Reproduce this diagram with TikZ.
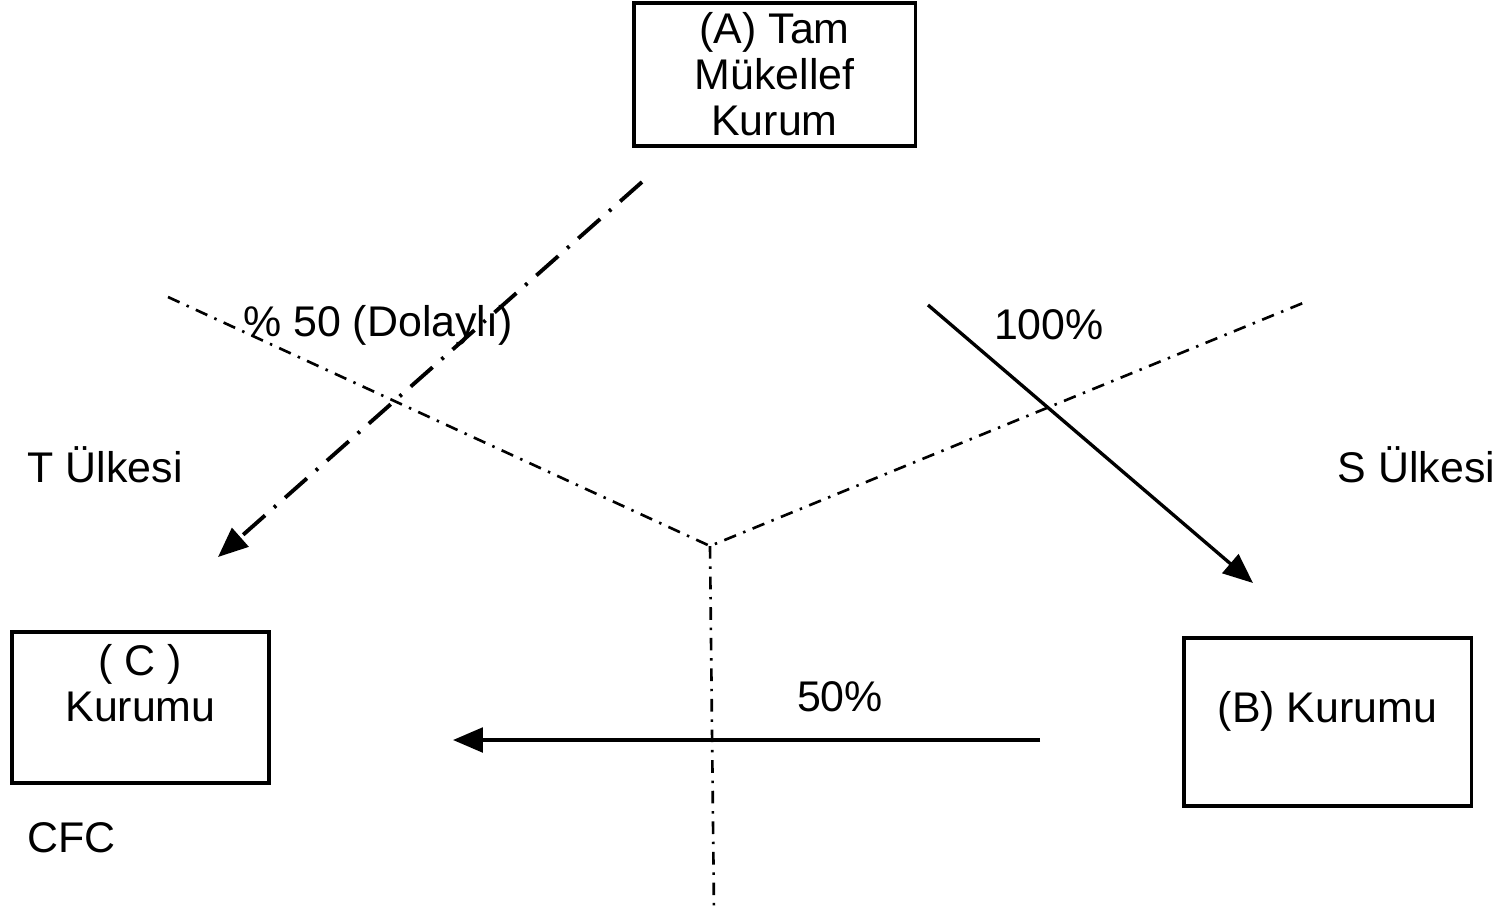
\documentclass[tikz,border=0pt]{standalone}
\usepackage{fontspec}
\setmainfont{Liberation Sans}
\usetikzlibrary{arrows.meta}
\tikzset{
  kutu/.style={draw, line width=0.9pt, inner sep=0pt, align=center},
  sinir/.style={line width=0.75pt, dash pattern=on 3.6pt off 2.2pt on 0.7pt off 2.2pt},
  dolayli/.style={line width=1.1pt, dash pattern=on 8.3pt off 3.4pt on 0.8pt off 3.4pt},
  ok/.style={-{Triangle[length=8.5pt,width=7pt]}}
}

\begin{document}
\begin{tikzpicture}[x={(0.01cm,0)}, y={(0,-0.01cm)}, font=\fontsize{12.2}{13.1}\selectfont]
        \useasboundingbox (0,0) rectangle (1508,914);
        % kurumlar
        \node[kutu, minimum width=2.81cm, minimum height=1.43cm] (kurumA) at (774.5,74.5) {(A) Tam\\Mükellef\\Kurum};
        \node[kutu, minimum width=2.57cm, minimum height=1.51cm] (kurumC) at (140.5,707.5) {};
        \node[align=center] (yaziC) at (140.5,683) {( C )\\Kurumu};
        \node[kutu, minimum width=2.87cm, minimum height=1.68cm] (kurumB) at (1327.5,722) {};
        \node (yaziB) at (1327.5,711) {(B) Kurumu};
        % ulke sinirlari
        \coordinate (sinirT) at (168,297);
        \coordinate (merkez) at (710,546);
        \coordinate (sinirS) at (1303,303);
        \coordinate (sinirAlt) at (714,912);
        \draw[sinir] (sinirT) -- (merkez) -- (sinirS);
        \draw[sinir] (merkez) -- (sinirAlt);
        % paylar
        \coordinate (aBas) at (642,182);
        \coordinate (cUst) at (218,557);
        \coordinate (aSag) at (928,305);
        \coordinate (bUst) at (1253,583);
        \coordinate (bSol) at (1040,740);
        \coordinate (cSag) at (453,740);
        \draw[dolayli, ok] (aBas) -- (cUst);
        \draw[line width=0.95pt, ok] (aSag) -- (bUst);
        \draw[line width=0.95pt, ok] (bSol) -- (cSag);
        \node (payAC) at (378,325) {\% 50 (Dolaylı)};
        \node (payAB) at (1049,325) {100\%};
        \node (payBC) at (840,697) {50\%};
        \node[anchor=west, inner sep=0pt] (ulkeT) at (27,465) {T Ülkesi};
        \node[anchor=east, inner sep=0pt] (ulkeS) at (1496,465) {S Ülkesi};
        \node[anchor=west, inner sep=0pt] (cfc) at (27,838) {CFC};
      \end{tikzpicture}
\end{document}
